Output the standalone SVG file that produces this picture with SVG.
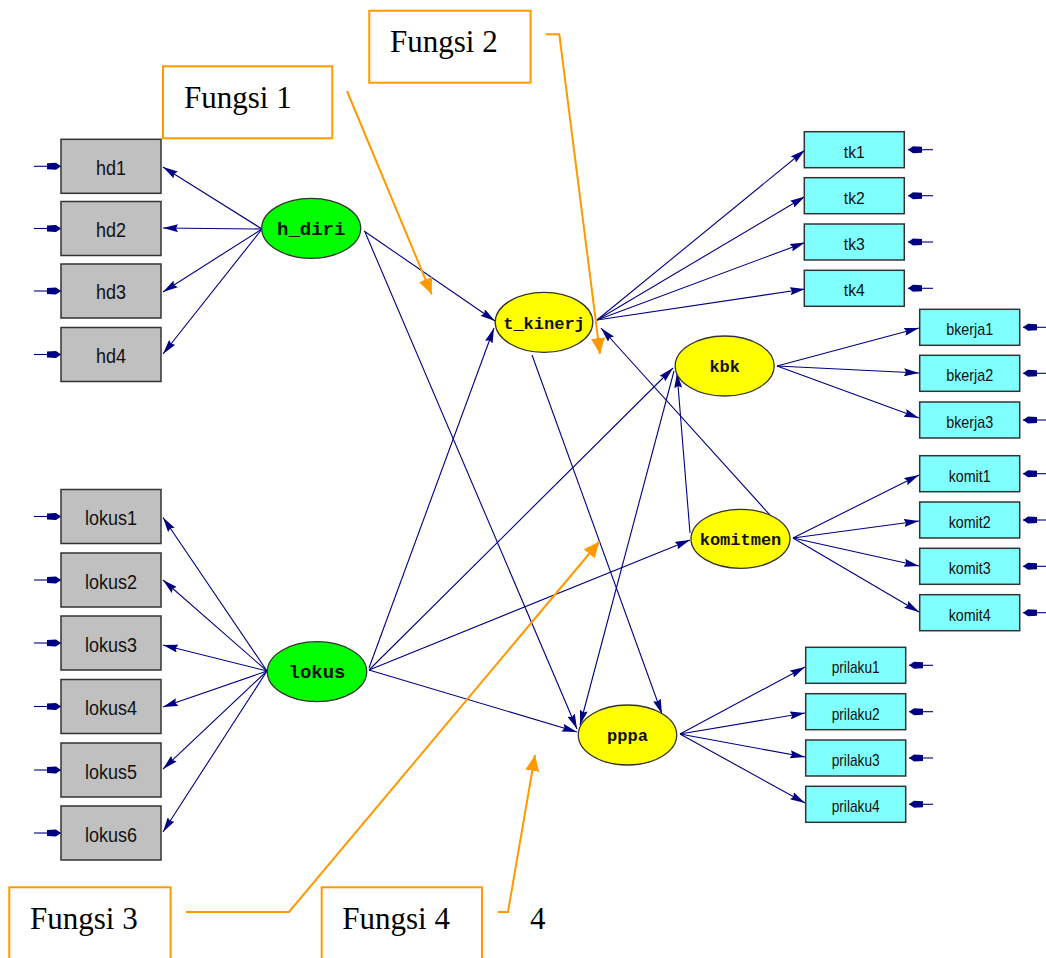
<svg xmlns="http://www.w3.org/2000/svg" width="1046" height="958" viewBox="0 0 1046 958">
<defs>
<style>
.ln{fill:none;stroke:#000080;stroke-width:1.1}
.or{fill:none;stroke:#ff9900;stroke-width:2}
.obsg{fill:#c0c0c0;stroke:#333;stroke-width:1.5}
.obsc{fill:#80ffff;stroke:#333;stroke-width:1.5}
.lat{stroke:#333;stroke-width:1.3}
.tg{font-family:"Liberation Sans Narrow","Liberation Sans",Arial,sans-serif;font-size:20px;fill:#111;text-anchor:middle}
.tc{font-family:"Liberation Sans Narrow","Liberation Sans",Arial,sans-serif;font-size:17px;fill:#111;text-anchor:middle}
.tl{font-family:"Liberation Mono","Courier New",monospace;font-weight:bold;fill:#111;text-anchor:middle}
.fb{fill:#fff;stroke:#ff9900;stroke-width:2}
.ft{font-family:"Liberation Serif","Times New Roman",serif;font-size:31px;fill:#000}
</style>
<marker id="ah" viewBox="0 0 15 8" refX="15" refY="4" markerWidth="15" markerHeight="8" markerUnits="userSpaceOnUse" orient="auto"><path d="M0,0 L15,4 L0,8 L2,4 z" fill="#000080"/></marker>
<marker id="eh" viewBox="0 0 14 8" refX="14" refY="4" markerWidth="14" markerHeight="8" markerUnits="userSpaceOnUse" orient="auto"><path d="M0,1 L9,0.5 L14,4 L9,7.5 L0,7 z" fill="#000080"/></marker>
<marker id="oh" viewBox="0 0 16 14" refX="16" refY="7" markerWidth="16" markerHeight="14" markerUnits="userSpaceOnUse" orient="auto"><path d="M0,0 L16,7 L0,14 z" fill="#ff9900"/></marker>
</defs>
<rect width="1046" height="958" fill="#fff"/>

<g id="connectors">
<g class="ln" marker-end="url(#ah)">
<path d="M262,229 L163,167"/><path d="M262,229 L163,228"/><path d="M262,229 L163,292"/><path d="M262,229 L163,354"/>
<path d="M267,671 L163,517.5"/><path d="M267,671 L163,580"/><path d="M267,671 L163,645"/><path d="M267,671 L163,707"/><path d="M267,671 L163,769"/><path d="M267,671 L163,832"/>
<path d="M597,320 L805,150"/><path d="M597,320 L805,196.5"/><path d="M597,320 L805,242.5"/><path d="M597,320 L805,289"/>
<path d="M777,366 L919,328"/><path d="M777,366 L919,373"/><path d="M777,366 L919,418"/>
<path d="M793,538 L919,475"/><path d="M793,538 L919,521"/><path d="M793,538 L919,566"/><path d="M793,538 L919,612"/>
<path d="M680,734 L805,667"/><path d="M680,734 L805,713"/><path d="M680,734 L805,757"/><path d="M680,734 L805,803"/>
<path d="M364,231 L495,321"/>
<path d="M365,232 L577,729"/>
<path d="M369,668 L494,328"/>
<path d="M369,670 L673,368"/>
<path d="M369,670 L690,540"/>
<path d="M369,670 L577,732"/>
<path d="M532,355 L662,714"/>
<path d="M674,371 L580,725"/>
<path d="M690,533 L677,373"/>
<path d="M788,535 L601,328"/>
</g>
<g class="ln" marker-end="url(#eh)">
<path d="M34,166.3 L61,166.3"/><path d="M34,228.5 L61,228.5"/><path d="M34,291 L61,291"/><path d="M34,354.5 L61,354.5"/>
<path d="M34,516.5 L61,516.5"/><path d="M34,580 L61,580"/><path d="M34,643 L61,643"/><path d="M34,706.5 L61,706.5"/><path d="M34,770 L61,770"/><path d="M34,833 L61,833"/>
<path d="M933,149.7 L908,149.7"/><path d="M933,195.7 L908,195.7"/><path d="M933,242 L908,242"/><path d="M933,288.3 L908,288.3"/>
<path d="M1046,327.3 L1023,327.3"/><path d="M1046,373.3 L1023,373.3"/><path d="M1046,420 L1023,420"/>
<path d="M1046,473.7 L1023,473.7"/><path d="M1046,520 L1023,520"/><path d="M1046,566.3 L1023,566.3"/><path d="M1046,612.7 L1023,612.7"/>
<path d="M933,665.3 L909,665.3"/><path d="M933,711.7 L909,711.7"/><path d="M933,758 L909,758"/><path d="M933,804.3 L909,804.3"/>
</g>
<g class="or" marker-end="url(#oh)">
<path d="M347,91 L431.7,294.3"/>
<path d="M545.7,34.3 L559.3,34.3 L600,354"/>
<path d="M186,912 L289,912 L599.5,541.5"/>
<path d="M498,912 L508,912 L535,755"/>
</g>
</g>

<g id="hd1"><rect class="obsg" x="61" y="139.3" width="100" height="54"/><text class="tg" x="111" y="174.5" textLength="30" lengthAdjust="spacingAndGlyphs">hd1</text></g>
<g id="hd2"><rect class="obsg" x="61" y="201.5" width="100" height="54"/><text class="tg" x="111" y="236.7" textLength="30" lengthAdjust="spacingAndGlyphs">hd2</text></g>
<g id="hd3"><rect class="obsg" x="61" y="264" width="100" height="54"/><text class="tg" x="111" y="299.2" textLength="30" lengthAdjust="spacingAndGlyphs">hd3</text></g>
<g id="hd4"><rect class="obsg" x="61" y="327.5" width="100" height="54"/><text class="tg" x="111" y="362.7" textLength="30" lengthAdjust="spacingAndGlyphs">hd4</text></g>

<g id="lokus1"><rect class="obsg" x="61" y="489.5" width="100" height="54"/><text class="tg" x="111" y="525.2" textLength="52" lengthAdjust="spacingAndGlyphs">lokus1</text></g>
<g id="lokus2"><rect class="obsg" x="61" y="553" width="100" height="54"/><text class="tg" x="111" y="588.7" textLength="52" lengthAdjust="spacingAndGlyphs">lokus2</text></g>
<g id="lokus3"><rect class="obsg" x="61" y="616" width="100" height="54"/><text class="tg" x="111" y="651.7" textLength="52" lengthAdjust="spacingAndGlyphs">lokus3</text></g>
<g id="lokus4"><rect class="obsg" x="61" y="679.5" width="100" height="54"/><text class="tg" x="111" y="715.2" textLength="52" lengthAdjust="spacingAndGlyphs">lokus4</text></g>
<g id="lokus5"><rect class="obsg" x="61" y="743" width="100" height="54"/><text class="tg" x="111" y="778.7" textLength="52" lengthAdjust="spacingAndGlyphs">lokus5</text></g>
<g id="lokus6"><rect class="obsg" x="61" y="806" width="100" height="54"/><text class="tg" x="111" y="841.7" textLength="52" lengthAdjust="spacingAndGlyphs">lokus6</text></g>

<g id="tk1"><rect class="obsc" x="804.3" y="131.7" width="100" height="36"/><text class="tc" x="854.3" y="157.5" textLength="21" lengthAdjust="spacingAndGlyphs">tk1</text></g>
<g id="tk2"><rect class="obsc" x="804.3" y="177.7" width="100" height="36"/><text class="tc" x="854.3" y="203.5" textLength="21" lengthAdjust="spacingAndGlyphs">tk2</text></g>
<g id="tk3"><rect class="obsc" x="804.3" y="224" width="100" height="36"/><text class="tc" x="854.3" y="249.8" textLength="21" lengthAdjust="spacingAndGlyphs">tk3</text></g>
<g id="tk4"><rect class="obsc" x="804.3" y="270.3" width="100" height="36"/><text class="tc" x="854.3" y="296.1" textLength="21" lengthAdjust="spacingAndGlyphs">tk4</text></g>

<g id="bkerja1"><rect class="obsc" x="919.7" y="309.3" width="100" height="36"/><text class="tc" x="969.7" y="335.1" textLength="47" lengthAdjust="spacingAndGlyphs">bkerja1</text></g>
<g id="bkerja2"><rect class="obsc" x="919.7" y="355.3" width="100" height="36"/><text class="tc" x="969.7" y="381.1" textLength="47" lengthAdjust="spacingAndGlyphs">bkerja2</text></g>
<g id="bkerja3"><rect class="obsc" x="919.7" y="402" width="100" height="36"/><text class="tc" x="969.7" y="427.8" textLength="47" lengthAdjust="spacingAndGlyphs">bkerja3</text></g>

<g id="komit1"><rect class="obsc" x="919.7" y="455.7" width="100" height="36"/><text class="tc" x="969.7" y="481.5" textLength="42" lengthAdjust="spacingAndGlyphs">komit1</text></g>
<g id="komit2"><rect class="obsc" x="919.7" y="502" width="100" height="36"/><text class="tc" x="969.7" y="527.8" textLength="42" lengthAdjust="spacingAndGlyphs">komit2</text></g>
<g id="komit3"><rect class="obsc" x="919.7" y="548.3" width="100" height="36"/><text class="tc" x="969.7" y="574.1" textLength="42" lengthAdjust="spacingAndGlyphs">komit3</text></g>
<g id="komit4"><rect class="obsc" x="919.7" y="594.7" width="100" height="36"/><text class="tc" x="969.7" y="620.5" textLength="42" lengthAdjust="spacingAndGlyphs">komit4</text></g>

<g id="prilaku1"><rect class="obsc" x="805.7" y="647.3" width="100" height="36"/><text class="tc" x="855.7" y="673.1" textLength="48" lengthAdjust="spacingAndGlyphs">prilaku1</text></g>
<g id="prilaku2"><rect class="obsc" x="805.7" y="693.7" width="100" height="36"/><text class="tc" x="855.7" y="719.5" textLength="48" lengthAdjust="spacingAndGlyphs">prilaku2</text></g>
<g id="prilaku3"><rect class="obsc" x="805.7" y="740" width="100" height="36"/><text class="tc" x="855.7" y="765.8" textLength="48" lengthAdjust="spacingAndGlyphs">prilaku3</text></g>
<g id="prilaku4"><rect class="obsc" x="805.7" y="786.3" width="100" height="36"/><text class="tc" x="855.7" y="812.1" textLength="48" lengthAdjust="spacingAndGlyphs">prilaku4</text></g>

<g id="h_diri"><ellipse class="lat" cx="311.2" cy="228.3" rx="49.5" ry="30" fill="#00ff00"/><text class="tl" x="311.2" y="234.5" font-size="19">h_diri</text></g>
<g id="lokus"><ellipse class="lat" cx="317" cy="671.7" rx="49.7" ry="30" fill="#00ff00"/><text class="tl" x="317" y="677.8" font-size="19">lokus</text></g>
<g id="t_kinerj"><ellipse class="lat" cx="544" cy="322.3" rx="48.8" ry="30" fill="#ffff00"/><text class="tl" x="544" y="328.5" font-size="17">t_kinerj</text></g>
<g id="kbk"><ellipse class="lat" cx="724.7" cy="366" rx="49.5" ry="30" fill="#ffff00"/><text class="tl" x="724.7" y="372" font-size="17">kbk</text></g>
<g id="komitmen"><ellipse class="lat" cx="740.5" cy="538.8" rx="49.5" ry="29.5" fill="#ffff00"/><text class="tl" x="740.5" y="545" font-size="17">komitmen</text></g>
<g id="pppa"><ellipse class="lat" cx="627.5" cy="735" rx="49.2" ry="30" fill="#ffff00"/><text class="tl" x="627.5" y="741" font-size="17">pppa</text></g>

<g id="fungsi1"><rect class="fb" x="163" y="66.3" width="169.3" height="72"/><text class="ft" x="184" y="108">Fungsi 1</text></g>
<g id="fungsi2"><rect class="fb" x="369.3" y="10.7" width="161.3" height="72"/><text class="ft" x="390" y="52">Fungsi 2</text></g>
<g id="fungsi3"><rect class="fb" x="9.3" y="887.3" width="161.3" height="80"/><text class="ft" x="30" y="929">Fungsi 3</text></g>
<g id="fungsi4"><rect class="fb" x="321.7" y="887.3" width="160.3" height="80"/><text class="ft" x="342.3" y="929">Fungsi 4</text></g>
<text class="ft" x="530" y="929">4</text>
</svg>
